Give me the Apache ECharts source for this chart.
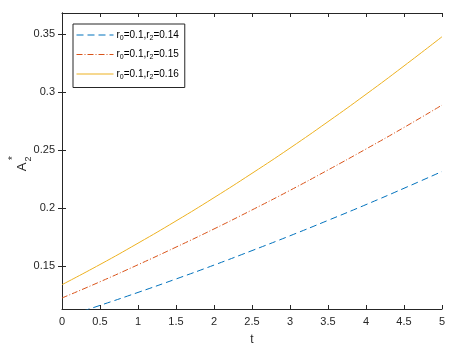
<!DOCTYPE html>
<html>
<head>
<meta charset="utf-8">
<script src="https://cdn.jsdelivr.net/npm/echarts@6/dist/echarts.min.js"></script>
<style>
  html, body { margin: 0; padding: 0; background: #fff; }
  #chart { width: 463px; height: 351px; }
</style>
</head>
<body>
<div id="chart"></div>
<script>
// t values and curves
const tValues = [0, 0.5, 1, 1.5, 2, 2.5, 3, 3.5, 4, 4.5, 5];
const a014 = [0.1053, 0.1161, 0.1273, 0.1389, 0.1509, 0.1634, 0.1762, 0.1895, 0.2031, 0.2172, 0.2317];
const a015 = [0.1225, 0.1365, 0.1512, 0.1664, 0.1821, 0.1985, 0.2154, 0.2330, 0.2511, 0.2697, 0.2890];
const a016 = [0.1340, 0.1514, 0.1698, 0.1890, 0.2091, 0.2301, 0.2519, 0.2747, 0.2983, 0.3228, 0.3480];
const yTicks = [0.15, 0.2, 0.25, 0.3, 0.35];
const names = ['r2=0.14', 'r2=0.15', 'r2=0.16'];

const chart = echarts.init(document.getElementById('chart'));
const dark = '#262626';
const font = 'Liberation Sans, Arial, sans-serif';

function pairs(ys) {
  return tValues.map((t, i) => [t, ys[i]]);
}

const yMin = 0.113, yMax = 0.3685;

const option = {
  animation: false,
  grid: { left: 62, right: 21, top: 13, bottom: 38 },
  legend: {
    orient: 'vertical',
    left: 73,
    top: 24,
    padding: [6, 6, 7, 3],
    itemGap: 8,
    itemWidth: 37,
    itemHeight: 12,
    borderColor: dark,
    borderWidth: 1,
    backgroundColor: '#fff',
    data: names,
    itemStyle: { opacity: 0 },
    lineStyle: { width: 1 },
    formatter: function (name) {
      return 'r{sub|0}=0.1,r{sub|2}=' + name.split('=')[1];
    },
    textStyle: {
      fontFamily: font,
      fontSize: 10,
      color: '#000',
      padding: [0, 0, 0, -2],
      rich: {
        sub: { fontSize: 7, fontFamily: font, color: '#000', padding: [6, 0, 0, 0] }
      }
    }
  },
  xAxis: [{
    type: 'value', min: 0, max: 5, interval: 0.5,
    name: 't', nameLocation: 'middle', nameGap: 25,
    nameTextStyle: { fontFamily: font, fontSize: 12, color: dark },
    axisLine: { lineStyle: { color: dark, width: 1 } },
    axisTick: { inside: true, length: 4, lineStyle: { color: dark } },
    axisLabel: { fontFamily: font, fontSize: 11, color: dark, margin: 7 },
    splitLine: { show: false }
  }, {
    type: 'value', min: 0, max: 5, interval: 0.5, position: 'top',
    axisLine: { lineStyle: { color: dark, width: 1 } },
    axisTick: { inside: true, length: 4, lineStyle: { color: dark } },
    axisLabel: { show: false },
    splitLine: { show: false }
  }],
  yAxis: [{
    type: 'value', min: yMin, max: yMax,
    axisLine: { show: true, lineStyle: { color: dark, width: 1 } },
    axisTick: { show: true, inside: true, length: 4, customValues: yTicks, lineStyle: { color: dark } },
    axisLabel: { fontFamily: font, fontSize: 11, color: dark, margin: 7, customValues: yTicks },
    splitLine: { show: false }
  }, {
    type: 'value', min: yMin, max: yMax, position: 'right',
    axisLine: { show: true, lineStyle: { color: dark, width: 1 } },
    axisTick: { show: true, inside: true, length: 4, customValues: yTicks, lineStyle: { color: dark } },
    axisLabel: { show: false, customValues: yTicks },
    splitLine: { show: false }
  }],
  series: [{
    name: names[0], type: 'line', data: pairs(a014), symbol: 'none', smooth: true, clip: true,
    lineStyle: { color: '#0072BD', width: 1, type: [7, 4] },
    itemStyle: { color: '#0072BD' }
  }, {
    name: names[1], type: 'line', data: pairs(a015), symbol: 'none', smooth: true, clip: true,
    lineStyle: { color: '#D95319', width: 1, type: [6, 2, 1, 2] },
    itemStyle: { color: '#D95319' }
  }, {
    name: names[2], type: 'line', data: pairs(a016), symbol: 'none', smooth: true, clip: true,
    lineStyle: { color: '#EDB120', width: 1 },
    itemStyle: { color: '#EDB120' }
  }],
  graphic: [
    { type: 'text', x: 22, y: 167, rotation: Math.PI / 2,
      style: { text: 'A', fontFamily: font, fontSize: 13, fill: dark, align: 'center', verticalAlign: 'middle' } },
    { type: 'text', x: 13, y: 158, rotation: Math.PI / 2,
      style: { text: '*', fontFamily: font, fontSize: 10, fill: dark, align: 'center', verticalAlign: 'middle' } },
    { type: 'text', x: 29, y: 159, rotation: Math.PI / 2,
      style: { text: '2', fontFamily: font, fontSize: 9, fill: dark, align: 'center', verticalAlign: 'middle' } }
  ]
};

chart.setOption(option);
</script>
</body>
</html>
